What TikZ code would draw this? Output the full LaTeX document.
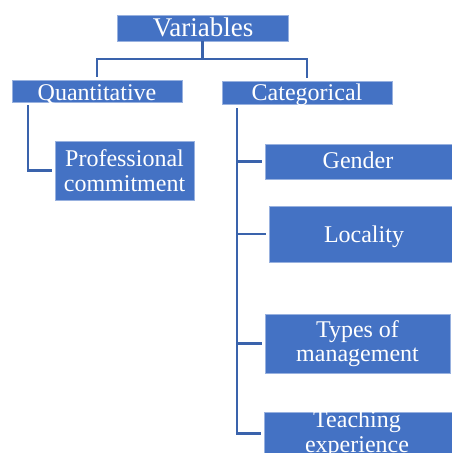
\documentclass[tikz,border=0pt]{standalone}
\usepackage{fontspec}
\setmainfont{Liberation Serif}
\definecolor{boxblue}{HTML}{4472C4}
\definecolor{linkblue}{HTML}{3A63AC}
\begin{document}
\begin{tikzpicture}[x=1pt,y=-1pt,
  box/.style={fill=boxblue, draw=boxblue!55!white, line width=0.6pt,
    inner sep=0pt, outer sep=0pt},
  lbl/.style={text=white, font=\fontsize{24}{24.5}\selectfont,
    align=center, inner sep=0pt},
  biglbl/.style={lbl, font=\fontsize{27}{27}\selectfont},
  conn/.style={draw=linkblue, line width=2.3pt}]
\useasboundingbox (0,0) rectangle (452,453);
\begin{scope}
\clip (0,0) rectangle (452,453);
% boxes
\node[box, minimum width=171pt, minimum height=26pt] (var)    at (202.5,28)   {};
\node[box, minimum width=170pt, minimum height=22pt] (quant)  at (97,91)      {};
\node[box, minimum width=170pt, minimum height=23pt] (cat)    at (307,92.5)   {};
\node[box, minimum width=139pt, minimum height=59pt] (prof)   at (124.5,170.5){};
\node[box, minimum width=189pt, minimum height=35pt] (gender) at (359.5,161.5){};
\node[box, minimum width=185pt, minimum height=56pt] (local)  at (361.5,234)  {};
\node[box, minimum width=185pt, minimum height=59pt] (types)  at (357.5,343.5){};
\node[box, minimum width=190pt, minimum height=43pt] (teach)  at (359,433.5)  {};
% labels (single lines sit on their baselines)
\node[biglbl, anchor=base] (varT)    at (203,36)   {Variables};
\node[lbl, anchor=base]    (quantT)  at (97,100)   {Quantitative};
\node[lbl, anchor=base]    (catT)    at (307,100)  {Categorical};
\node[lbl]    (profT)   at (124.5,170.5){Professional\\commitment};
\node[lbl, anchor=base]    (genderT) at (358,168)  {Gender};
\node[lbl, anchor=base]    (localT)  at (364,242)  {Locality};
\node[lbl]    (typesT)  at (357.5,343.5){Types of\\management};
\node[lbl]    (teachT)  at (357,434)    {Teaching\\experience};
% connectors
\draw[conn] (var.south) -- ++(0,18) -| ([yshift=3pt]quant.north);
\draw[conn] (var.south) -- ++(0,18) -| ([yshift=3pt]cat.north);
\draw[conn] ([xshift=16pt,yshift=-3pt]quant.south west) |- ([xshift=-3pt]prof.west);
\draw[conn] ([xshift=15pt,yshift=-4pt]cat.south west) coordinate (trunk)
  |- ([xshift=-3pt]teach.west);
\draw[conn] (trunk |- gender.west) -- ([xshift=-3pt]gender.west);
\draw[conn] (trunk |- local.west)  -- ([xshift=-3pt]local.west);
\draw[conn] (trunk |- types.west)  -- ([xshift=-3pt]types.west);
\end{scope}
\end{tikzpicture}
\end{document}
